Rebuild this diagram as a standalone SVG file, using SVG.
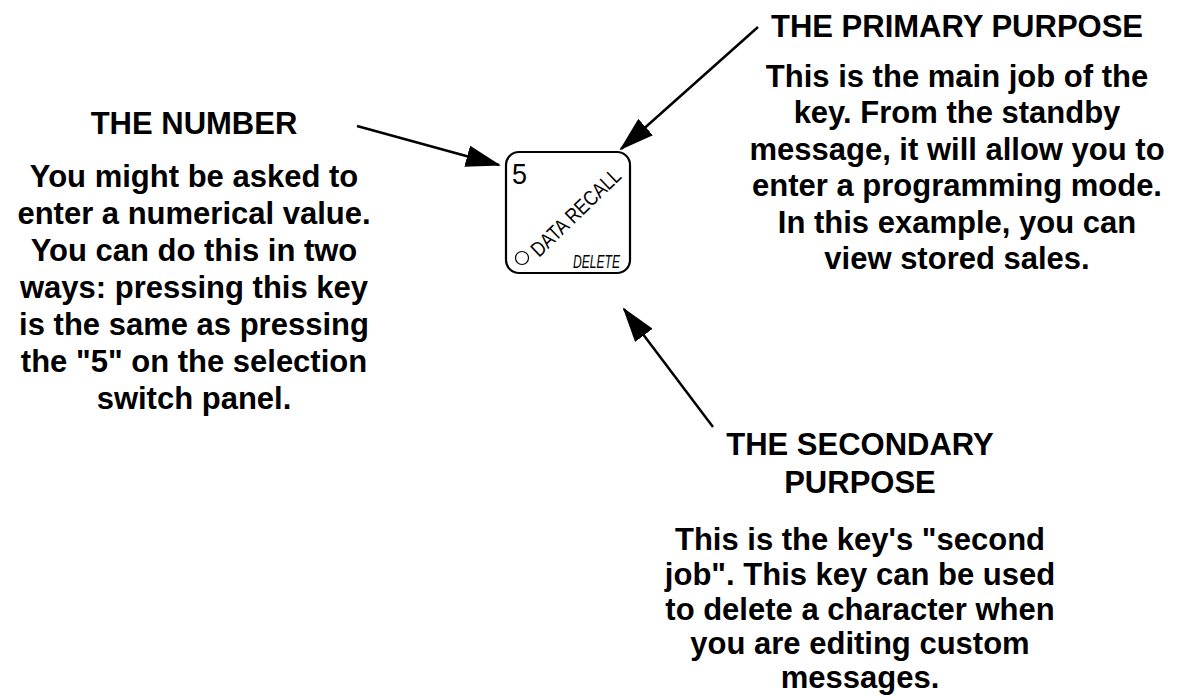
<svg xmlns="http://www.w3.org/2000/svg" width="1181" height="700" viewBox="0 0 1181 700">
<style>
.t{font-family:"Liberation Sans",Arial,sans-serif;font-weight:bold;font-size:31px;fill:#000;text-anchor:middle}
.ln{stroke:#000;stroke-width:2.5;fill:none}
.k{font-family:"Liberation Sans",Arial,sans-serif;fill:#000}
</style>
<defs>
<marker id="ah" viewBox="0 0 35 22" refX="33" refY="11" markerWidth="35" markerHeight="22" markerUnits="userSpaceOnUse" orient="auto">
<path d="M0,0 L35,11 L0,22 Z" fill="#000"/>
</marker>
</defs>
<rect width="1181" height="700" fill="#fff"/>
<g id="key">
<rect x="506" y="152" width="124" height="121" rx="13" ry="13" fill="#fff" stroke="#000" stroke-width="2.2"/>
<text class="k" x="512" y="184" font-size="29" textLength="15" lengthAdjust="spacingAndGlyphs">5</text>
<text class="k" x="0" y="0" font-size="21" textLength="116" lengthAdjust="spacingAndGlyphs" transform="translate(539,258) rotate(-44)">DATA RECALL</text>
<circle cx="522" cy="258" r="6.5" fill="none" stroke="#000" stroke-width="1.2"/>
<text class="k" x="573" y="268" font-size="18" font-style="italic" textLength="47" lengthAdjust="spacingAndGlyphs">DELETE</text>
</g>
<g id="number">
<text class="t" x="194" y="134">THE NUMBER</text>
<text class="t" x="194" y="187">You might be asked to</text>
<text class="t" x="194" y="224">enter a numerical value.</text>
<text class="t" x="194" y="261">You can do this in two</text>
<text class="t" x="194" y="298">ways: pressing this key</text>
<text class="t" x="194" y="335">is the same as pressing</text>
<text class="t" x="194" y="372">the "5" on the selection</text>
<text class="t" x="194" y="409">switch panel.</text>
</g>
<g id="primary">
<text class="t" x="957" y="37">THE PRIMARY PURPOSE</text>
<text class="t" x="957" y="87">This is the main job of the</text>
<text class="t" x="957" y="123">key. From the standby</text>
<text class="t" x="957" y="160">message, it will allow you to</text>
<text class="t" x="957" y="196">enter a programming mode.</text>
<text class="t" x="957" y="233">In this example, you can</text>
<text class="t" x="957" y="269">view stored sales.</text>
</g>
<g id="secondary">
<text class="t" x="860" y="455">THE SECONDARY</text>
<text class="t" x="860" y="493">PURPOSE</text>
<text class="t" x="860" y="550">This is the key's "second</text>
<text class="t" x="860" y="585">job". This key can be used</text>
<text class="t" x="860" y="620">to delete a character when</text>
<text class="t" x="860" y="654">you are editing custom</text>
<text class="t" x="860" y="688">messages.</text>
</g>
<g id="connectors">
<line class="ln" x1="357" y1="126" x2="499" y2="165" marker-end="url(#ah)"/>
<line class="ln" x1="758" y1="27" x2="621" y2="149" marker-end="url(#ah)"/>
<line class="ln" x1="713" y1="427" x2="624" y2="309" marker-end="url(#ah)"/>
</g>
</svg>
